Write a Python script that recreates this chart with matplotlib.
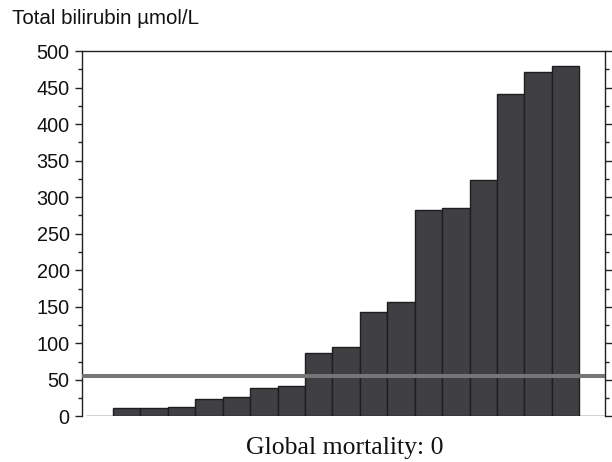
import matplotlib
matplotlib.use("Agg")
import matplotlib.pyplot as plt
from matplotlib.ticker import MultipleLocator

# bilirubin per group, sorted ascending (first and last groups empty)
groups = list(range(19))
bilirubin = [0, 11, 11, 13.5, 24, 26.4, 39.6, 42.4, 87, 94.7, 143.5, 157,
             282, 284.6, 323, 441, 471, 479.5, 0]
threshold = 56
y_ticks = [0, 50, 100, 150, 200, 250, 300, 350, 400, 450, 500]

title_text = "Total bilirubin \u00b5mol/L"
xlabel_text = "Global mortality: 0"

plt.rcParams["font.family"] = ["Liberation Sans", "DejaVu Sans"]

fig = plt.figure(figsize=(6.12, 4.62), dpi=100)
ax = fig.add_axes([0.134, 0.0985, 0.8546, 0.791])

ax.bar(groups, bilirubin, width=1.0, color="#404042", edgecolor="#1e1e20",
       linewidth=1.0, zorder=2)
ax.axhline(threshold, color="#767676", linewidth=2.9, zorder=3)

ax.set_xlim(-0.63, 18.44)
ax.set_ylim(0, 500)
ax.set_yticks(y_ticks)
ax.yaxis.set_minor_locator(MultipleLocator(25))
ax.set_xticks([])

ax.spines["bottom"].set_visible(False)
for side in ["left", "right", "top"]:
    ax.spines[side].set_linewidth(1.0)
    ax.spines[side].set_color("#222222")

ax.tick_params(axis="y", which="major", length=5, width=1.0, direction="out",
               labelsize=14.3, pad=4, right=True, colors="#222222",
               labelcolor="#111111")
ax.tick_params(axis="y", which="minor", length=3, width=1.0, direction="out",
               right=True, colors="#222222")

fig.text(0.019, 0.959, title_text, fontsize=14.8, ha="left", va="center",
         color="#111111")
fig.text(0.563, 0.0167, xlabel_text, fontsize=18.5, ha="center", va="baseline",
         family=["Liberation Serif", "DejaVu Serif"], color="#111111")

fig.savefig("out.png", dpi=100)
